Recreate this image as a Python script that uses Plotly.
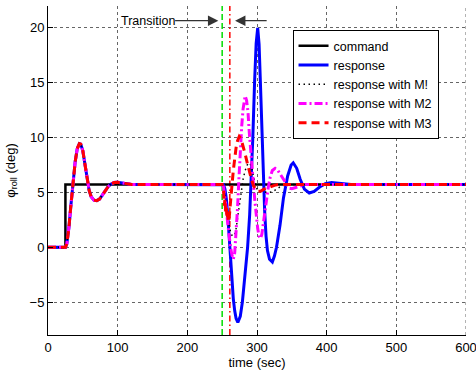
import plotly.graph_objects as go

# ---------------- data ----------------
# command (step)
cmd_t = [0, 25, 25, 600]
cmd_v = [0, 0, 5.73, 5.73]

# shared initial response (identical for all controllers before transition)
base_t = [0, 25, 27, 30, 33, 36, 39, 42, 45, 47, 50, 53, 56, 59, 62, 66, 70, 74, 78, 82,
          86, 90, 95, 100, 106, 112, 120, 160, 200, 250]
base_v = [0, 0, 0.3, 1.8, 3.9, 6.0, 7.8, 9.0, 9.45, 9.4, 8.8, 7.6, 6.3, 5.2, 4.6, 4.3,
          4.25, 4.4, 4.75, 5.15, 5.5, 5.75, 5.9, 5.92, 5.85, 5.77, 5.73, 5.73, 5.73, 5.73]

# response (no modification) after transition
resp_t = [252, 254, 256, 258, 260, 262, 264, 266, 268, 270, 272.5, 276, 279, 283, 286.5,
          289.5, 291.5, 294, 296.5, 298.8, 301, 303, 305, 307, 309, 311, 313, 315, 318,
          322, 325, 328, 333, 338, 344, 349, 352, 357, 362, 368, 375, 382, 390, 398, 407,
          415, 425, 435, 500, 600]
resp_v = [5.7, 5.3, 4.4, 2.9, 0.8, -1.3, -3.2, -4.7, -5.8, -6.5, -6.85, -6.3, -5.0, -2.5,
          0.0, 3.0, 5.7, 10.0, 15.0, 18.6, 20.0, 18.5, 14.8, 10.6, 6.6, 3.3, 1.0, -0.3,
          -1.1, -1.35, -0.8, 0.0, 2.0, 4.5, 6.5, 7.5, 7.7, 7.2, 6.2, 5.3, 4.95, 5.1, 5.5,
          5.8, 5.9, 5.85, 5.75, 5.73, 5.73, 5.73]

# response with M1
m1_t = [252, 254, 256, 258, 260, 262, 264, 266, 268, 270, 272, 274, 277, 280, 283, 286,
        289, 292, 295, 298, 301, 305, 310, 316, 322, 328, 334, 340, 350, 450, 600]
m1_v = [5.6, 4.8, 3.6, 2.6, 1.9, 1.4, 1.1, 1.0, 1.2, 1.7, 2.6, 3.6, 5.0, 6.2, 7.0, 7.5,
        7.7, 7.4, 6.5, 5.6, 5.2, 5.1, 5.05, 5.0, 5.05, 5.3, 5.55, 5.7, 5.73, 5.73, 5.73]

# response with M2
m2_t = [252, 254, 256, 258, 260, 262, 264, 266, 268, 270, 272, 274, 276, 278, 280, 283,
        285, 287, 289, 291, 293, 295, 297, 299, 301, 303, 305, 307, 310, 313, 316, 319,
        322, 326, 330, 334, 338, 342, 346, 350, 355, 362, 370, 450, 600]
m2_v = [5.5, 4.6, 3.4, 2.2, 1.0, 0.0, -0.7, -1.1, -0.5, 1.2, 3.5, 6.2, 8.9, 11.0, 12.6,
        13.8, 13.4, 12.4, 10.4, 8.6, 7.0, 5.7, 4.2, 2.8, 1.7, 1.0, 0.8, 1.2, 2.4, 4.0,
        5.4, 6.4, 7.0, 7.2, 7.0, 6.6, 6.1, 5.7, 5.4, 5.35, 5.45, 5.62, 5.73, 5.73, 5.73]

# response with M3
m3_t = [252, 253, 254, 255, 256, 257, 258, 259, 260, 261, 262, 264, 266, 268, 270, 272,
        274.5, 277, 280, 283, 286, 289, 292, 295, 298, 301, 305, 310, 315, 320, 325, 330,
        450, 600]
m3_v = [5.2, 3.8, 4.4, 3.2, 3.6, 2.6, 3.0, 2.3, 2.6, 3.2, 4.0, 5.6, 7.0, 8.2, 9.1, 9.7,
        10.1, 9.9, 9.3, 8.5, 7.7, 6.9, 6.2, 5.6, 5.3, 5.1, 5.1, 5.3, 5.4, 5.55, 5.65,
        5.73, 5.73, 5.73]

# transition markers
transition_start = 250
transition_end = 261
y_range = [-8, 22]
x_range = [0, 600]

x_ticks = [0, 100, 200, 300, 400, 500, 600]
y_ticks = [-5, 0, 5, 10, 15, 20]

# annotation arrows (data coordinates)
arrow_y = 20.66
text_center = 143
arrow1_to = 244.5
arrow2_from, arrow2_to = 316, 268.5

FONT = "Liberation Sans, Arial, Helvetica, sans-serif"
GRID_COLOR = "#666"

fig = go.Figure()

# transition vertical lines
fig.add_trace(go.Scatter(x=[transition_start, transition_start], y=y_range, mode="lines",
                         line=dict(color="#00dd00", width=1.5, dash="6px,3px"),
                         showlegend=False, hoverinfo="skip"))
fig.add_trace(go.Scatter(x=[transition_end, transition_end], y=y_range, mode="lines",
                         line=dict(color="#ff0000", width=1.5, dash="6px,3px,1.5px,3px"),
                         showlegend=False, hoverinfo="skip"))

fig.add_trace(go.Scatter(x=cmd_t, y=cmd_v, mode="lines", name="command",
                         line=dict(color="black", width=2.5)))
fig.add_trace(go.Scatter(x=base_t + resp_t, y=base_v + resp_v, mode="lines", name="response",
                         line=dict(color="#0000ff", width=3)))
fig.add_trace(go.Scatter(x=base_t + m1_t, y=base_v + m1_v, mode="lines", name="response with M!",
                         line=dict(color="black", width=1.5, dash="1.5px,3.5px")))
fig.add_trace(go.Scatter(x=base_t + m2_t, y=base_v + m2_v, mode="lines", name="response with M2",
                         line=dict(color="#ff00ff", width=3, dash="8px,3px,2px,3px")))
fig.add_trace(go.Scatter(x=base_t + m3_t, y=base_v + m3_v, mode="lines", name="response with M3",
                         line=dict(color="#ff0000", width=3, dash="8px,5px")))

# annotations: text with arrow pointing right, and a second arrow pointing left
fig.add_annotation(x=arrow1_to, y=arrow_y, ax=text_center, ay=arrow_y, axref="x", ayref="y",
                   xref="x", yref="y", text="Transition", showarrow=True, arrowhead=2,
                   arrowsize=1.6, arrowwidth=1.3, arrowcolor="#333", borderpad=0,
                   font=dict(size=12.5, color="black"))
fig.add_annotation(x=arrow2_to, y=arrow_y, ax=arrow2_from, ay=arrow_y, axref="x", ayref="y",
                   xref="x", yref="y", text="", showarrow=True, arrowhead=2, arrowsize=1.6,
                   arrowwidth=1.3, arrowcolor="#333")

# grid line at the right end of the x range (Plotly clips grid lines at the edge)
fig.add_shape(type="line", xref="x", yref="paper", x0=x_ticks[-1], x1=x_ticks[-1], y0=0, y1=1,
              line=dict(color=GRID_COLOR, width=1, dash="dot"), layer="below")

grid = dict(showgrid=True, gridcolor=GRID_COLOR, gridwidth=1, griddash="dot", zeroline=False,
            showline=True, linecolor="black", linewidth=1, ticks="inside", ticklen=5,
            tickcolor="black", tickfont=dict(size=13, color="black"), mirror=False,
            ticklabeloverflow="allow", automargin=False)

fig.update_xaxes(range=x_range, tickvals=x_ticks,
                 title=dict(text="time (sec)", font=dict(size=13, color="black"), standoff=2),
                 **grid)
fig.update_yaxes(range=y_range, tickvals=y_ticks,
                 title=dict(text="φ<sub>roll</sub> (deg)", font=dict(size=13, color="black"),
                            standoff=11),
                 **grid)

fig.update_layout(
    width=476, height=373,
    margin=dict(l=48, r=10, t=6, b=38),
    paper_bgcolor="white", plot_bgcolor="white",
    font=dict(family=FONT, size=13, color="black"),
    legend=dict(x=0.585, y=0.927, xanchor="left", yanchor="top",
                bgcolor="white", bordercolor="black", borderwidth=1,
                font=dict(size=12.5), itemwidth=30, tracegroupgap=0),
)

fig.write_html("out.html")
